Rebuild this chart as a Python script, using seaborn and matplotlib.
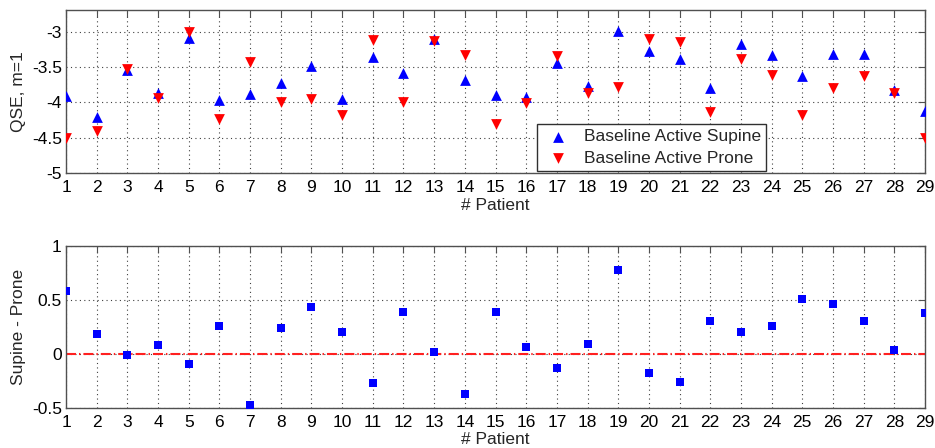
import matplotlib
matplotlib.use("Agg")
import matplotlib.pyplot as plt
import numpy as np
import pandas as pd
import seaborn as sns

# Per-patient QSE values (m=1) for the two baseline active positions
patients = list(range(1, 30))
supine = [-3.91, -4.20, -3.54, -3.86, -3.08, -3.965, -3.88, -3.73, -3.49, -3.955,
          -3.36, -3.58, -3.095, -3.68, -3.89, -3.92, -3.44, -3.77, -2.99, -3.265,
          -3.38, -3.80, -3.165, -3.33, -3.63, -3.31, -3.31, -3.83, -4.12]
prone = [-4.50, -4.40, -3.52, -3.94, -3.005, -4.23, -3.42, -3.99, -3.955, -4.18,
         -3.11, -3.99, -3.13, -3.33, -4.30, -4.01, -3.34, -3.87, -3.785, -3.10,
         -3.15, -4.14, -3.39, -3.61, -4.18, -3.79, -3.63, -3.87, -4.50]
# Supine minus prone difference per patient
difference = [0.583, 0.179, -0.012, 0.077, -0.10, 0.26, -0.478, 0.238, 0.432, 0.20,
              -0.268, 0.389, 0.012, -0.373, 0.389, 0.062, -0.13, 0.086, 0.772, -0.182,
              -0.259, 0.306, 0.198, 0.259, 0.506, 0.463, 0.306, 0.031, 0.38]

top_yticks = [-5, -4.5, -4, -3.5, -3]
top_yticklabels = ["-5", "-4.5", "-4", "-3.5", "-3"]
bot_yticks = [-0.5, 0, 0.5, 1]
bot_yticklabels = ["-0.5", "0", "0.5", "1"]

sns.set_style("white")
plt.rcParams["font.family"] = ["Liberation Sans", "DejaVu Sans"]
plt.rcParams["axes.unicode_minus"] = False

FS = 12.5

df = pd.DataFrame({"patient": patients, "supine": supine, "prone": prone,
                   "diff": difference})

fig = plt.figure(figsize=(9.35, 4.48), dpi=100)
ax1 = fig.add_axes([0.0706, 0.6138, 0.9187, 0.3638])
ax2 = fig.add_axes([0.0706, 0.0900, 0.9187, 0.3616])

frame_col = "#505050"

def style_axes(ax):
    for s in ax.spines.values():
        s.set_color(frame_col)
        s.set_linewidth(1.0)
    ax.tick_params(direction="in", top=True, right=True, length=5,
                   color=frame_col, labelsize=FS, labelcolor="black", pad=3)
    ax.tick_params(axis="x", pad=5)
    ax.grid(True, linestyle=(0, (1, 3)), color="#404040", linewidth=0.8)
    ax.set_axisbelow(True)
    ax.set_xlim(1, 29)
    ax.set_xticks(patients)
    ax.set_xticklabels([str(p) for p in patients])

# Top panel: QSE per patient
sns.scatterplot(data=df, x="patient", y="supine", ax=ax1, marker="^", s=60,
                color="#0000ff", linewidth=0, label="Baseline Active Supine",
                zorder=3)
sns.scatterplot(data=df, x="patient", y="prone", ax=ax1, marker="v", s=60,
                color="#ff0000", linewidth=0, label="Baseline Active Prone",
                zorder=3)
style_axes(ax1)
ax1.set_ylim(-5, -2.69)
ax1.set_yticks(top_yticks)
ax1.set_yticklabels(top_yticklabels)
ax1.set_xlabel("# Patient", fontsize=FS, labelpad=2)
ax1.set_ylabel("QSE, m=1", fontsize=FS, labelpad=4)
leg = ax1.legend(loc="lower left", bbox_to_anchor=(0.548, 0.012), fontsize=FS,
                 frameon=True, fancybox=False, framealpha=1, borderpad=0.3,
                 handletextpad=0.5, labelspacing=0.36, handlelength=1.9,
                 borderaxespad=0)
leg.get_frame().set_edgecolor("#303030")
leg.get_frame().set_linewidth(1.0)

# Bottom panel: supine minus prone
sns.scatterplot(data=df, x="patient", y="diff", ax=ax2, marker="s", s=28,
                color="#0000ff", linewidth=0, zorder=3)
ax2.axhline(0, color="#ff2020", linestyle=(0, (4.8, 1.44, 0.67, 1.44)),
            linewidth=1.5, zorder=2)
style_axes(ax2)
ax2.set_ylim(-0.5, 1)
ax2.set_yticks(bot_yticks)
ax2.set_yticklabels(bot_yticklabels)
ax2.set_xlabel("# Patient", fontsize=FS, labelpad=2)
ax2.set_ylabel("Supine - Prone", fontsize=FS, labelpad=4)

fig.savefig("out.png", dpi=100)
